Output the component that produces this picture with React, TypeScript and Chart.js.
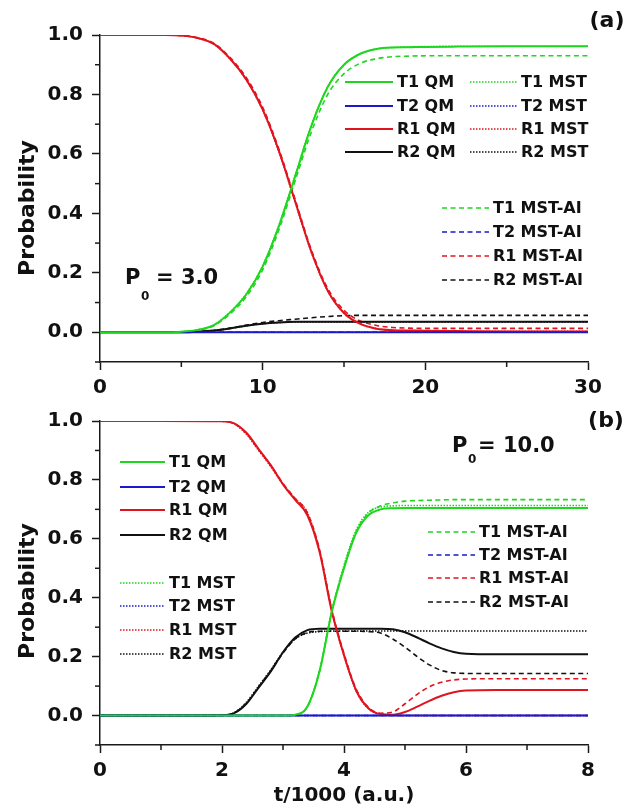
import React, { useEffect, useRef } from 'react';
import { Chart, registerables } from 'chart.js';

Chart.register(...registerables);

const FONT = '"DejaVu Sans", "Liberation Sans", sans-serif';
const AXIS = '#1a1a1a';
const GREEN = '#1fd61f';
const BLUE = '#1a1acc';
const RED = '#e0141e';
const BLACK = '#111111';

// ---------- Panel (a): P0 = 3.0 ----------
const tA = [0, 2, 4, 5, 6, 7, 8, 9, 10, 11, 12, 13, 14, 15, 16, 17, 18, 19, 20, 22, 25, 30];
const aT1QM = [0, 0, 0, 0.002, 0.008, 0.024, 0.067, 0.128, 0.221, 0.357, 0.525, 0.695, 0.825, 0.9, 0.937, 0.953, 0.958, 0.959, 0.96, 0.961, 0.962, 0.962];
const aT2QM = [0, 0, 0, 0, 0, 0, 0, 0, 0, 0, 0, 0, 0, 0, 0, 0, 0, 0, 0, 0, 0, 0];
const aR1QM = [1, 1, 1, 0.998, 0.99, 0.97, 0.92, 0.85, 0.75, 0.61, 0.44, 0.27, 0.14, 0.065, 0.028, 0.012, 0.007, 0.006, 0.005, 0.004, 0.003, 0.003];
const aR2QM = [0, 0, 0, 0, 0.002, 0.006, 0.013, 0.022, 0.029, 0.033, 0.035, 0.035, 0.035, 0.035, 0.035, 0.035, 0.035, 0.035, 0.035, 0.035, 0.035, 0.035];
const aT1MST = [0, 0, 0, 0.002, 0.008, 0.025, 0.068, 0.13, 0.224, 0.36, 0.528, 0.697, 0.826, 0.9, 0.937, 0.953, 0.958, 0.96, 0.961, 0.962, 0.962, 0.962];
const aT2MST = [0, 0, 0, 0, 0, 0, 0, 0, 0, 0, 0, 0, 0, 0, 0, 0, 0, 0, 0, 0, 0, 0];
const aR1MST = [1, 1, 1, 0.998, 0.99, 0.969, 0.919, 0.848, 0.747, 0.607, 0.437, 0.268, 0.139, 0.065, 0.028, 0.012, 0.007, 0.005, 0.004, 0.003, 0.003, 0.003];
const aR2MST = [0, 0, 0, 0, 0.002, 0.006, 0.013, 0.022, 0.029, 0.033, 0.035, 0.035, 0.035, 0.035, 0.035, 0.035, 0.035, 0.035, 0.035, 0.035, 0.035, 0.035];
const aT1AI = [0, 0, 0, 0.002, 0.007, 0.022, 0.062, 0.12, 0.21, 0.345, 0.51, 0.675, 0.8, 0.87, 0.905, 0.92, 0.927, 0.929, 0.93, 0.93, 0.93, 0.93];
const aT2AI = [0, 0, 0, 0, 0, 0, 0, 0, 0, 0, 0, 0, 0, 0, 0, 0, 0, 0, 0, 0, 0, 0];
const aR1AI = [1, 1, 1, 0.998, 0.991, 0.972, 0.924, 0.856, 0.757, 0.616, 0.446, 0.276, 0.147, 0.074, 0.038, 0.023, 0.016, 0.014, 0.013, 0.013, 0.013, 0.013];
const aR2AI = [0, 0, 0, 0, 0.002, 0.006, 0.014, 0.024, 0.033, 0.039, 0.044, 0.049, 0.053, 0.056, 0.057, 0.057, 0.057, 0.057, 0.057, 0.057, 0.057, 0.057];

// ---------- Panel (b): P0 = 10.0 ----------
const tB = [0, 1, 2, 2.2, 2.4, 2.6, 2.8, 3.0, 3.2, 3.4, 3.6, 3.8, 4.0, 4.2, 4.4, 4.6, 4.8, 5.0, 5.2, 5.4, 5.6, 5.8, 6.0, 6.5, 7, 8];
const bT1QM = [0, 0, 0, 0, 0, 0, 0, 0, 0.003, 0.03, 0.15, 0.352, 0.5, 0.62, 0.68, 0.7, 0.704, 0.705, 0.705, 0.705, 0.705, 0.705, 0.705, 0.705, 0.705, 0.705];
const bT2QM = [0, 0, 0, 0, 0, 0, 0, 0, 0, 0, 0, 0, 0, 0, 0, 0, 0, 0, 0, 0, 0, 0, 0, 0, 0, 0];
const bR1QM = [1, 1, 0.999, 0.992, 0.96, 0.905, 0.85, 0.785, 0.732, 0.68, 0.555, 0.353, 0.205, 0.085, 0.025, 0.005, 0.003, 0.012, 0.03, 0.05, 0.067, 0.079, 0.085, 0.087, 0.087, 0.087];
const bR2QM = [0, 0, 0.001, 0.008, 0.04, 0.095, 0.15, 0.215, 0.265, 0.29, 0.295, 0.295, 0.295, 0.295, 0.295, 0.295, 0.293, 0.283, 0.265, 0.245, 0.228, 0.216, 0.21, 0.208, 0.208, 0.208];
const bT1MST = [0, 0, 0, 0, 0, 0, 0, 0, 0.003, 0.032, 0.155, 0.355, 0.51, 0.63, 0.69, 0.708, 0.712, 0.713, 0.713, 0.713, 0.713, 0.713, 0.713, 0.713, 0.713, 0.713];
const bT2MST = [0, 0, 0, 0, 0, 0, 0, 0, 0, 0, 0, 0, 0, 0, 0, 0, 0, 0, 0, 0, 0, 0, 0, 0, 0, 0];
const bR1MST = [1, 1, 0.999, 0.99, 0.955, 0.9, 0.845, 0.785, 0.737, 0.688, 0.56, 0.358, 0.203, 0.083, 0.023, 0.005, 0.001, 0, 0, 0, 0, 0, 0, 0, 0, 0];
const bR2MST = [0, 0, 0.001, 0.01, 0.045, 0.1, 0.155, 0.215, 0.26, 0.28, 0.285, 0.287, 0.287, 0.287, 0.287, 0.287, 0.287, 0.287, 0.287, 0.287, 0.287, 0.287, 0.287, 0.287, 0.287, 0.287];
const bT1AI = [0, 0, 0, 0, 0, 0, 0, 0, 0.003, 0.03, 0.152, 0.354, 0.504, 0.624, 0.687, 0.712, 0.722, 0.728, 0.73, 0.731, 0.732, 0.733, 0.733, 0.733, 0.733, 0.733];
const bT2AI = [0, 0, 0, 0, 0, 0, 0, 0, 0, 0, 0, 0, 0, 0, 0, 0, 0, 0, 0, 0, 0, 0, 0, 0, 0, 0];
const bR1AI = [1, 1, 0.999, 0.991, 0.958, 0.903, 0.848, 0.788, 0.737, 0.688, 0.562, 0.36, 0.21, 0.09, 0.028, 0.008, 0.012, 0.04, 0.072, 0.098, 0.113, 0.121, 0.124, 0.125, 0.125, 0.125];
const bR2AI = [0, 0, 0.001, 0.009, 0.042, 0.097, 0.152, 0.212, 0.26, 0.282, 0.286, 0.286, 0.286, 0.286, 0.285, 0.28, 0.26, 0.232, 0.2, 0.172, 0.153, 0.145, 0.143, 0.143, 0.143, 0.143];

const SERIES_NAMES = ['T1', 'T2', 'R1', 'R2'];
const SERIES_COLORS = [GREEN, BLUE, RED, BLACK];

type Style = { suffix: string; dash: number[]; width: number };
const STYLES: Style[] = [
  { suffix: 'QM', dash: [], width: 2 },
  { suffix: 'MST', dash: [1.5, 1.5], width: 1.6 },
  { suffix: 'MST-AI', dash: [5, 3.5], width: 1.6 },
];

function buildDatasets(t: number[], groups: number[][][]) {
  const out: any[] = [];
  groups.forEach((group, gi) => {
    const st = STYLES[gi];
    group.forEach((vals, si) => {
      out.push({
        label: `${SERIES_NAMES[si]} ${st.suffix}`,
        data: t.map((x, i) => ({ x, y: vals[i] })),
        borderColor: SERIES_COLORS[si],
        backgroundColor: SERIES_COLORS[si],
        borderWidth: st.width,
        borderDash: st.dash,
        pointRadius: 0,
        cubicInterpolationMode: 'monotone',
        fill: false,
      });
    });
  });
  return out;
}

type LegendItem = { label: string; x1: number; x2: number; y: number };
type OverlayOpts = {
  tag: string; tagX: number; tagY: number;
  pX: number; pBase: number; subX: number; subBase: number; eqX: number; eqText: string;
  yTitleX: number; yTitleY: number;
  xTitleBase?: number;
  legend: LegendItem[];
  xMajor: (v: number) => boolean;
};

const yMajor = (v: number) => {
  const k = Math.round(v * 10);
  return k >= 0 && k % 2 === 0;
};

function makeOverlay(o: OverlayOpts) {
  return {
    id: 'overlay',
    afterDraw(chart: any) {
      const ctx: CanvasRenderingContext2D = chart.ctx;
      ctx.save();
      // minor ticks
      const xs = chart.scales.x;
      const ys = chart.scales.y;
      ctx.strokeStyle = AXIS;
      ctx.lineWidth = 1.5;
      xs.ticks.forEach((tk: any) => {
        if (o.xMajor(tk.value)) return;
        const px = xs.getPixelForValue(tk.value);
        ctx.beginPath();
        ctx.moveTo(px, xs.top);
        ctx.lineTo(px, xs.top + 5);
        ctx.stroke();
      });
      ys.ticks.forEach((tk: any) => {
        if (yMajor(tk.value)) return;
        const py = ys.getPixelForValue(tk.value);
        ctx.beginPath();
        ctx.moveTo(ys.right, py);
        ctx.lineTo(ys.right - 5, py);
        ctx.stroke();
      });

      ctx.fillStyle = '#111';
      // panel tag
      ctx.font = `bold 22px ${FONT}`;
      ctx.textAlign = 'center';
      ctx.textBaseline = 'middle';
      ctx.fillText(o.tag, o.tagX, o.tagY);

      // P0 annotation
      ctx.textAlign = 'left';
      ctx.textBaseline = 'alphabetic';
      ctx.font = `bold 21px ${FONT}`;
      ctx.fillText('P', o.pX, o.pBase);
      ctx.font = `bold 12px ${FONT}`;
      ctx.fillText('0', o.subX, o.subBase);
      ctx.font = `bold 21px ${FONT}`;
      ctx.fillText(o.eqText, o.eqX, o.pBase);

      // y title
      ctx.save();
      ctx.translate(o.yTitleX, o.yTitleY);
      ctx.rotate(-Math.PI / 2);
      ctx.textAlign = 'center';
      ctx.textBaseline = 'alphabetic';
      ctx.font = `bold 22px ${FONT}`;
      ctx.fillText('Probability', 0, 0);
      ctx.restore();

      // x title
      if (o.xTitleBase !== undefined) {
        const ca = chart.chartArea;
        ctx.textAlign = 'center';
        ctx.textBaseline = 'alphabetic';
        ctx.font = `bold 20px ${FONT}`;
        ctx.fillText('t/1000 (a.u.)', (ca.left + ca.right) / 2, o.xTitleBase);
      }

      // legends
      ctx.font = `bold 16px ${FONT}`;
      ctx.textAlign = 'left';
      ctx.textBaseline = 'middle';
      o.legend.forEach((it) => {
        const ds = chart.data.datasets.find((d: any) => d.label === it.label);
        if (!ds) return;
        ctx.save();
        ctx.strokeStyle = ds.borderColor;
        ctx.lineWidth = ds.borderWidth;
        ctx.setLineDash(ds.borderDash || []);
        ctx.beginPath();
        ctx.moveTo(it.x1, it.y);
        ctx.lineTo(it.x2, it.y);
        ctx.stroke();
        ctx.restore();
        ctx.fillStyle = '#111';
        ctx.fillText(it.label, it.x2 + 4, it.y + 1);
      });
      ctx.restore();
    },
  };
}

function makeScales(xMax: number, xStep: number, xMajor: (v: number) => boolean, xHeight: number) {
  const tickFont = { family: FONT, size: 20, weight: 'bold' as const };
  return {
    x: {
      type: 'linear' as const,
      min: 0,
      max: xMax,
      ticks: {
        stepSize: xStep,
        autoSkip: false,
        maxRotation: 0,
        padding: 6,
        color: '#111',
        font: tickFont,
        callback: (v: any) => (xMajor(Number(v)) ? String(v) : ''),
      },
      grid: {
        display: true,
        drawOnChartArea: false,
        drawTicks: true,
        tickLength: 8,
        tickWidth: 1.5,
        tickColor: (c: any) => (c.tick && xMajor(c.tick.value) ? AXIS : 'rgba(0,0,0,0)'),
      },
      border: { display: true, color: AXIS, width: 1.5 },
      afterFit: (s: any) => {
        s.height = xHeight;
      },
    },
    y: {
      type: 'linear' as const,
      min: -0.1,
      max: 1.0,
      ticks: {
        stepSize: 0.1,
        autoSkip: false,
        padding: 9,
        color: '#111',
        font: tickFont,
        callback: (v: any) => (yMajor(Number(v)) ? (Math.round(Number(v) * 10) / 10).toFixed(1) : ''),
      },
      grid: {
        display: true,
        drawOnChartArea: false,
        drawTicks: true,
        tickLength: 8,
        tickWidth: 1.5,
        tickColor: (c: any) => (c.tick && yMajor(c.tick.value) ? AXIS : 'rgba(0,0,0,0)'),
      },
      border: { display: true, color: AXIS, width: 1.5 },
      afterFit: (s: any) => {
        s.width = 100;
      },
    },
  };
}

function legendBlock(labels: string[], x1: number, x2: number, ys: number[]): LegendItem[] {
  return labels.map((label, i) => ({ label, x1, x2, y: ys[i] }));
}

export default function App() {
  const refA = useRef<HTMLCanvasElement | null>(null);
  const refB = useRef<HTMLCanvasElement | null>(null);

  useEffect(() => {
    document.body.style.margin = '0';
    const xMajorA = (v: number) => Math.round(v) % 10 === 0;
    const xMajorB = (v: number) => Math.round(v) % 2 === 0;

    const legendA: LegendItem[] = [
      ...legendBlock(['T1 QM', 'T2 QM', 'R1 QM', 'R2 QM'], 345, 393, [82, 106, 129, 152]),
      ...legendBlock(['T1 MST', 'T2 MST', 'R1 MST', 'R2 MST'], 470, 517, [82, 106, 129, 152]),
      ...legendBlock(['T1 MST-AI', 'T2 MST-AI', 'R1 MST-AI', 'R2 MST-AI'], 442, 489, [208, 232, 256, 280]),
    ];
    const legendB: LegendItem[] = [
      ...legendBlock(['T1 QM', 'T2 QM', 'R1 QM', 'R2 QM'], 120, 165, [62, 87, 110, 135]),
      ...legendBlock(['T1 MST', 'T2 MST', 'R1 MST', 'R2 MST'], 120, 165, [183, 206, 230, 254]),
      ...legendBlock(['T1 MST-AI', 'T2 MST-AI', 'R1 MST-AI', 'R2 MST-AI'], 428, 475, [132, 155, 178, 202]),
    ];

    const chartA = new Chart(refA.current as HTMLCanvasElement, {
      type: 'line',
      data: {
        datasets: buildDatasets(tA, [
          [aT1QM, aT2QM, aR1QM, aR2QM],
          [aT1MST, aT2MST, aR1MST, aR2MST],
          [aT1AI, aT2AI, aR1AI, aR2AI],
        ]),
      },
      options: {
        responsive: false,
        animation: false,
        devicePixelRatio: 1,
        layout: { padding: { top: 35, right: 40, bottom: 0, left: 0 } },
        plugins: { legend: { display: false }, tooltip: { enabled: false } },
        scales: makeScales(30, 5, xMajorA, 38) as any,
      },
      plugins: [
        makeOverlay({
          tag: '(a)', tagX: 607, tagY: 21,
          pX: 125, pBase: 284, subX: 141, subBase: 300, eqX: 156, eqText: '= 3.0',
          yTitleX: 34, yTitleY: 208,
          legend: legendA,
          xMajor: xMajorA,
        }),
      ],
    });

    const chartB = new Chart(refB.current as HTMLCanvasElement, {
      type: 'line',
      data: {
        datasets: buildDatasets(tB, [
          [bT1QM, bT2QM, bR1QM, bR2QM],
          [bT1MST, bT2MST, bR1MST, bR2MST],
          [bT1AI, bT2AI, bR1AI, bR2AI],
        ]),
      },
      options: {
        responsive: false,
        animation: false,
        devicePixelRatio: 1,
        layout: { padding: { top: 19, right: 40, bottom: 0, left: 0 } },
        plugins: { legend: { display: false }, tooltip: { enabled: false } },
        scales: makeScales(8, 1, xMajorB, 66) as any,
      },
      plugins: [
        makeOverlay({
          tag: '(b)', tagX: 606, tagY: 21,
          pX: 452, pBase: 52, subX: 468, subBase: 63, eqX: 478, eqText: '= 10.0',
          yTitleX: 34, yTitleY: 191,
          xTitleBase: 401,
          legend: legendB,
          xMajor: xMajorB,
        }),
      ],
    });

    return () => {
      chartA.destroy();
      chartB.destroy();
    };
  }, []);

  return (
    <div style={{ position: 'absolute', left: 0, top: 0, width: 628, height: 811, background: '#fff' }}>
      <canvas ref={refA} width={628} height={400} style={{ position: 'absolute', left: 0, top: 0, width: 628, height: 400 }} />
      <canvas ref={refB} width={628} height={411} style={{ position: 'absolute', left: 0, top: 400, width: 628, height: 411 }} />
    </div>
  );
}
